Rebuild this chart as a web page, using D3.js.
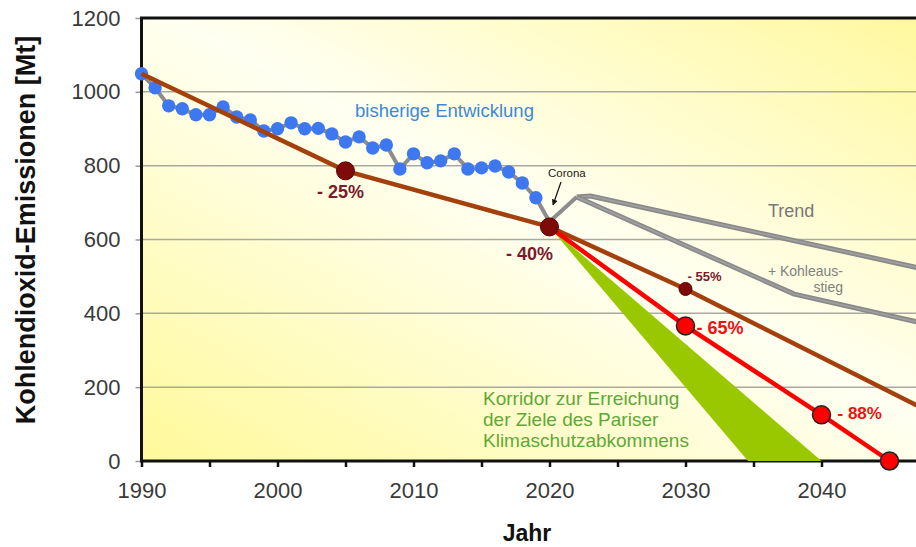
<!DOCTYPE html>
<html>
<head>
<meta charset="utf-8">
<script src="https://cdn.jsdelivr.net/npm/d3@7"></script>
<style>
  body { margin: 0; background: #fff; }
  text { font-family: "Liberation Sans", Arial, sans-serif; }
</style>
</head>
<body>
<script>
// historic emissions (blue dots)
const histYears = [1990, 1991, 1992, 1993, 1994, 1995, 1996, 1997, 1998, 1999,
                   2000, 2001, 2002, 2003, 2004, 2005, 2006, 2007, 2008, 2009,
                   2010, 2011, 2012, 2013, 2014, 2015, 2016, 2017, 2018, 2019];
const histValues = [1049, 1011, 962, 954, 938, 938, 959, 932, 924, 894,
                    900, 916, 900, 901, 886, 864, 878, 848, 856, 791,
                    832, 808, 813, 832, 791, 794, 799, 783, 753, 713];

// corona dip and rebound
const coronaYears = [2020, 2022];
const coronaValues = [648, 715];

// gray scenarios
const trendYears = [2022, 2023, 2050];
const trendValues = [715, 718, 500];
const coalYears = [2022, 2038, 2050];
const coalValues = [715, 452, 352];

// brown target line
const targetYears = [1990, 2005, 2020, 2030, 2050];
const targetValues = [1049, 786, 634, 466, 95];

// red path
const pathYears = [2020, 2030, 2040, 2045];
const pathValues = [634, 366, 125, 0];

// green corridor
const corridorYears = [2020, 2034.6, 2040];
const corridorValues = [634, 0, 0];

// markers
const brownDotYears = [2005, 2020, 2030];
const brownDotValues = [786, 634, 466];
const brownDotLabels = ["- 25%", "- 40%", "- 55%"];
const redDotYears = [2030, 2040, 2045];
const redDotValues = [366, 125, 0];
const redDotLabels = ["- 65%", "- 88%", ""];

const yTicks = [0, 200, 400, 600, 800, 1000, 1200];
const xTicks = [1990, 1995, 2000, 2005, 2010, 2015, 2020, 2025, 2030, 2035, 2040, 2045];

const svg = d3.select("body").append("svg")
    .attr("width", 916)
    .attr("height", 547);

const x = d3.scaleLinear().domain([1990, 2050]).range([141.5, 957.5]);
const y = d3.scaleLinear().domain([0, 1200]).range([461, 18]);

const defs = svg.append("defs");
// yellow in bottom-left and top-right corners, pale band along the other diagonal
const grad = defs.append("linearGradient")
    .attr("id", "bg")
    .attr("gradientUnits", "userSpaceOnUse")
    .attr("x1", 141).attr("y1", 461)
    .attr("x2", 512).attr("y2", -223);
grad.append("stop").attr("offset", 0).attr("stop-color", "#fff99a");
grad.append("stop").attr("offset", 0.52).attr("stop-color", "#fffff2");
grad.append("stop").attr("offset", 1).attr("stop-color", "#fff89a");

defs.append("marker")
    .attr("id", "arrow")
    .attr("viewBox", "0 0 10 10")
    .attr("refX", 9).attr("refY", 5)
    .attr("markerWidth", 5).attr("markerHeight", 5)
    .attr("orient", "auto")
  .append("path")
    .attr("d", "M0,0 L10,5 L0,10 z")
    .attr("fill", "#111");

// plot background
svg.append("rect")
    .attr("x", x(1990))
    .attr("y", y(1200))
    .attr("width", x(2050) - x(1990))
    .attr("height", y(0) - y(1200))
    .attr("fill", "url(#bg)");

// gridlines
svg.append("g")
    .selectAll("line")
    .data(yTicks.filter(d => d > 0 && d < 1200))
    .enter().append("line")
    .attr("x1", x(1990)).attr("x2", x(2050))
    .attr("y1", d => y(d)).attr("y2", d => y(d))
    .attr("stroke", "#a9a9a0")
    .attr("stroke-width", 1.5);

// axes
const yAxis = svg.append("g")
    .attr("transform", `translate(${x(1990)},0)`)
    .call(d3.axisLeft(y).tickValues(yTicks).tickSize(6).tickPadding(15).tickFormat(d3.format("d")));
yAxis.select(".domain").remove();
yAxis.selectAll(".tick line").attr("stroke", "#999").attr("stroke-width", 1.5);
yAxis.selectAll("text")
    .attr("font-size", 22)
    .attr("fill", "#3a3a3a")
    .style("font-family", "'Liberation Sans', Arial, sans-serif");

const xAxis = svg.append("g")
    .attr("transform", `translate(0,${y(0)})`)
    .call(d3.axisBottom(x).tickValues(xTicks).tickSize(6).tickPadding(15)
        .tickFormat(d => d % 10 === 0 ? d : ""));
xAxis.select(".domain").remove();
xAxis.selectAll(".tick line").attr("stroke", "#111").attr("stroke-width", 2.5);
xAxis.selectAll("text")
    .attr("font-size", 22)
    .attr("fill", "#3a3a3a")
    .style("font-family", "'Liberation Sans', Arial, sans-serif");

// frame: top, left, bottom
svg.append("path")
    .attr("d", `M${x(2050)},${y(1200)} H${x(1990)} V${y(0)} H${x(2050)}`)
    .attr("fill", "none")
    .attr("stroke", "#111")
    .attr("stroke-width", 3);

const line = d3.line()
    .x(d => x(d[0]))
    .y(d => y(d[1]));

const zip = (a, b) => a.map((v, i) => [v, b[i]]);

// green corridor
svg.append("path")
    .attr("d", line(zip(corridorYears, corridorValues)) + "Z")
    .attr("fill", "#99c800");

// gray scenario lines
[zip(trendYears, trendValues), zip(coalYears, coalValues)].forEach(pts => {
    svg.append("path")
        .attr("d", line(pts))
        .attr("fill", "none")
        .attr("stroke", "#8a8a8a")
        .attr("stroke-width", 5)
        .attr("stroke-linejoin", "round");
    svg.append("path")
        .attr("d", line(pts))
        .attr("fill", "none")
        .attr("stroke", "#a2a2a2")
        .attr("stroke-width", 1.5)
        .attr("stroke-linejoin", "round");
});

// historic gray line
svg.append("path")
    .attr("d", line(zip(histYears.concat(coronaYears), histValues.concat(coronaValues))))
    .attr("fill", "none")
    .attr("stroke", "#8c8c8c")
    .attr("stroke-width", 4)
    .attr("stroke-linejoin", "round");

svg.append("g")
    .selectAll("circle")
    .data(zip(histYears, histValues))
    .enter().append("circle")
    .attr("cx", d => x(d[0]))
    .attr("cy", d => y(d[1]))
    .attr("r", 6.7)
    .attr("fill", "#3d78f0");

// brown target line
svg.append("path")
    .attr("d", line(zip(targetYears, targetValues)))
    .attr("fill", "none")
    .attr("stroke", "#a3400c")
    .attr("stroke-width", 4.5);

// red path
svg.append("path")
    .attr("d", line(zip(pathYears, pathValues)))
    .attr("fill", "none")
    .attr("stroke", "#ff0000")
    .attr("stroke-width", 4.5);

// brown markers
svg.append("g")
    .selectAll("circle")
    .data(zip(brownDotYears, brownDotValues))
    .enter().append("circle")
    .attr("cx", d => x(d[0]))
    .attr("cy", d => y(d[1]))
    .attr("r", (d, i) => i === 2 ? 6.5 : 9)
    .attr("fill", "#7e0a0a")
    .attr("stroke", "#5c0000")
    .attr("stroke-width", 1);

// red markers
svg.append("g")
    .selectAll("circle")
    .data(zip(redDotYears, redDotValues))
    .enter().append("circle")
    .attr("cx", d => x(d[0]))
    .attr("cy", d => y(d[1]))
    .attr("r", 9)
    .attr("fill", "#ff0000")
    .attr("stroke", "#222")
    .attr("stroke-width", 1.5);

// marker labels (offsets in px from the dot)
const brownOffsets = [[-5, 27, "middle", 18], [-20, 33, "middle", 18], [2, -8, "start", 13]];
svg.append("g")
    .selectAll("text")
    .data(brownDotLabels)
    .enter().append("text")
    .attr("x", (d, i) => x(brownDotYears[i]) + brownOffsets[i][0])
    .attr("y", (d, i) => y(brownDotValues[i]) + brownOffsets[i][1])
    .attr("text-anchor", (d, i) => brownOffsets[i][2])
    .attr("font-size", (d, i) => brownOffsets[i][3])
    .attr("font-weight", "bold")
    .attr("fill", "#7a1a2c")
    .text(d => d);

const redOffsets = [[11, 8, 18], [16, 4, 17], [0, 0, 17]];
svg.append("g")
    .selectAll("text")
    .data(redDotLabels)
    .enter().append("text")
    .attr("x", (d, i) => x(redDotYears[i]) + redOffsets[i][0])
    .attr("y", (d, i) => y(redDotValues[i]) + redOffsets[i][1])
    .attr("font-size", (d, i) => redOffsets[i][2])
    .attr("font-weight", "bold")
    .attr("fill", "#ee1111")
    .text(d => d);

// annotations
svg.append("text")
    .attr("x", 355).attr("y", 117)
    .attr("font-size", 18.5)
    .attr("fill", "#3a8ad6")
    .text("bisherige Entwicklung");

svg.append("text")
    .attr("x", 548).attr("y", 177)
    .attr("font-size", 11.5)
    .attr("fill", "#222")
    .text("Corona");

svg.append("line")
    .attr("x1", 561).attr("y1", 182)
    .attr("x2", 553).attr("y2", 205)
    .attr("stroke", "#111")
    .attr("stroke-width", 1.2)
    .attr("marker-end", "url(#arrow)");

svg.append("text")
    .attr("x", 768).attr("y", 217)
    .attr("font-size", 18)
    .attr("fill", "#777")
    .text("Trend");

svg.append("text")
    .attr("x", 843).attr("y", 276)
    .attr("text-anchor", "end")
    .attr("font-size", 14)
    .attr("fill", "#808080")
    .selectAll("tspan")
    .data(["+ Kohleaus-", "stieg"])
    .enter().append("tspan")
    .attr("x", 843)
    .attr("dy", (d, i) => i === 0 ? 0 : 16)
    .text(d => d);

svg.append("text")
    .attr("x", 483).attr("y", 405)
    .attr("font-size", 19)
    .attr("fill", "#5fa838")
    .selectAll("tspan")
    .data(["Korridor zur Erreichung", "der Ziele des Pariser", "Klimaschutzabkommens"])
    .enter().append("tspan")
    .attr("x", 483)
    .attr("dy", (d, i) => i === 0 ? 0 : 21)
    .text(d => d);

// axis titles
svg.append("text")
    .attr("transform", `translate(35,230) rotate(-90)`)
    .attr("text-anchor", "middle")
    .attr("font-size", 27)
    .attr("font-weight", "bold")
    .attr("fill", "#111")
    .text("Kohlendioxid-Emissionen [Mt]");

svg.append("text")
    .attr("x", 527).attr("y", 541)
    .attr("text-anchor", "middle")
    .attr("font-size", 23)
    .attr("font-weight", "bold")
    .attr("fill", "#111")
    .text("Jahr");
</script>
</body>
</html>
